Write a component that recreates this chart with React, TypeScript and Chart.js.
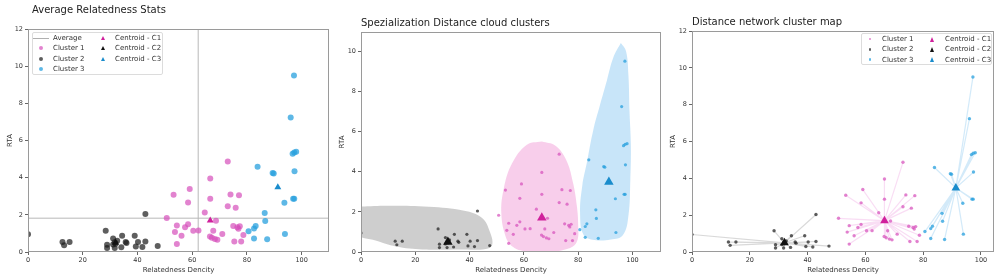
import React, { useEffect, useRef } from 'react';
import { Chart, registerables } from 'chart.js';

Chart.register(...registerables);

const FONT = '"DejaVu Sans", Verdana, sans-serif';

// ---------- data ----------
const cluster1X = [50.7, 53.2, 53.7, 54.4, 54.4, 56.1, 57.4, 58.5, 58.5, 59.1, 60.4, 62.3, 64.6, 66.6, 66.6, 66.5, 67.2, 67.7, 68.7, 68.3, 69.2, 71.0, 73.0, 73.0, 74.0, 75.0, 75.4, 75.9, 76.5, 77.1, 76.9, 77.4, 77.9, 78.7];
const cluster1Y = [1.83, 3.08, 1.08, 1.43, 0.43, 0.88, 1.33, 2.67, 1.5, 3.39, 1.15, 1.16, 2.13, 3.96, 2.87, 0.84, 0.77, 1.15, 1.68, 0.7, 0.66, 0.97, 4.87, 2.46, 3.1, 1.4, 0.57, 2.38, 1.33, 3.06, 1.25, 1.38, 0.57, 0.91];

const cluster2X = [0, 12.6, 13.2, 15.2, 28.4, 28.9, 28.9, 31.1, 31.7, 31.1, 31.7, 32.6, 32.0, 34.1, 34.4, 35.7, 36.0, 39.0, 39.4, 40.2, 41.8, 42.9, 42.9, 47.4];
const cluster2Y = [0.95, 0.54, 0.36, 0.54, 1.15, 0.39, 0.22, 0.72, 0.52, 0.4, 0.22, 0.6, 0.45, 0.25, 0.88, 0.54, 0.48, 0.88, 0.3, 0.54, 0.27, 2.04, 0.57, 0.32];

const cluster3X = [80.6, 82.6, 83.2, 82.6, 83.9, 86.5, 86.7, 87.4, 89.4, 89.8, 93.7, 93.9, 96.7, 97.3, 98.0, 96.9, 97.3, 97.4, 97.2, 96.0];
const cluster3Y = [1.11, 1.27, 1.4, 0.73, 4.59, 2.1, 1.67, 0.68, 4.25, 4.22, 2.65, 0.97, 5.29, 5.36, 5.39, 2.87, 2.87, 4.34, 9.5, 7.24];

const centroidX = [66.6, 32.0, 91.3];
const centroidY = [1.7, 0.5, 3.48];

const averageX = 62.2;
const averageY = 1.82;

// cloud outlines (data units), closed
const cloud1X = [66.6, 71.5, 75.5, 78.0, 79.5, 80.0, 79.6, 77.0, 68.5, 60.0, 55.5, 53.2, 51.7, 52.5, 55.6, 61.1, 66.6];
const cloud1Y = [5.5, 5.3, 4.6, 3.5, 2.3, 1.3, 0.55, 0.2, 0.0, 0.05, 0.3, 0.8, 1.9, 3.1, 4.4, 5.34, 5.5];
const cloud2X = [-2, 10, 25, 38, 44.5, 47.5, 48.3, 46, 36, 24, 14, 6, -2, -2];
const cloud2Y = [2.25, 2.3, 2.25, 2.05, 1.7, 1.0, 0.35, 0.15, 0.12, 0.12, 0.25, 0.55, 0.95, 2.25];
const cloud3X = [95.7, 97.6, 98.5, 98.9, 99.4, 99.2, 98.5, 96.5, 92.0, 86.0, 82.0, 80.7, 81.5, 83.2, 85.6, 88.0, 90.6, 93.0, 95.7];
const cloud3Y = [10.4, 10.0, 8.8, 7.0, 5.3, 3.6, 1.8, 0.85, 0.62, 0.6, 0.85, 1.9, 3.3, 4.45, 6.1, 7.3, 8.55, 9.7, 10.4];

const clusterLabels = ['Cluster 1', 'Cluster 2', 'Cluster 3'];
const centroidLabels = ['Centroid - C1', 'Centroid - C2', 'Centroid - C3'];

// ---------- styles ----------
const pointColors = ['rgba(214, 78, 186, 0.7)', 'rgba(25, 25, 25, 0.7)', 'rgba(40, 160, 222, 0.75)'];
const centroidColors = ['#d0209c', '#111111', '#1a8ccc'];
const cloudColors = ['rgba(246, 190, 228, 0.75)', 'rgba(190, 190, 190, 0.75)', 'rgba(190, 224, 248, 0.85)'];
const lineColors = ['rgba(232, 120, 210, 0.25)', 'rgba(80, 80, 80, 0.22)', 'rgba(80, 170, 230, 0.25)'];

const pts = (xs: number[], ys: number[]) => xs.map((x, i) => ({ x, y: ys[i] }));
const clusterXs = [cluster1X, cluster2X, cluster3X];
const clusterYs = [cluster1Y, cluster2Y, cluster3Y];

const framePlugin = {
  id: 'frame',
  afterDraw(chart: any) {
    const { ctx, chartArea } = chart;
    const { left, top, right, bottom } = chartArea;
    ctx.save();
    ctx.strokeStyle = '#9a9a9a';
    ctx.lineWidth = 1;
    ctx.strokeRect(Math.round(left) + 0.5, Math.round(top) + 0.5, Math.round(right - left) - 1, Math.round(bottom - top) - 1);
    ctx.restore();
  },
};

type Panel = {
  left: number;
  width: number;
  yAxisWidth: number;
  rightPad: number;
  topPad: number;
  xMax: number;
  yMax: number;
  yTitlePad: number;
  datasets: any[];
};

function buildPanel1(): any[] {
  const ds: any[] = [];
  for (let i = 0; i < 3; i++) {
    ds.push({
      data: [{ x: centroidX[i], y: centroidY[i] }],
      pointStyle: 'triangle',
      pointRadius: 4,
      backgroundColor: centroidColors[i],
      borderColor: centroidColors[i],
      borderWidth: 0,
      order: 1,
    });
  }
  for (let i = 0; i < 3; i++) {
    ds.push({
      data: pts(clusterXs[i], clusterYs[i]),
      pointRadius: 3,
      backgroundColor: pointColors[i],
      borderWidth: 0,
      order: 3,
    });
  }
  ds.push({
    data: [{ x: 0, y: averageY }, { x: 110, y: averageY }],
    showLine: true,
    borderColor: '#b8b8b8',
    borderWidth: 1,
    pointRadius: 0,
    order: 5,
  });
  ds.push({
    data: [{ x: averageX, y: 0 }, { x: averageX, y: 12 }],
    showLine: true,
    borderColor: '#b8b8b8',
    borderWidth: 1,
    pointRadius: 0,
    order: 5,
  });
  return ds;
}

function buildPanel2(): any[] {
  const ds: any[] = [];
  const cloudsX = [cloud1X, cloud2X, cloud3X];
  const cloudsY = [cloud1Y, cloud2Y, cloud3Y];
  for (let i = 0; i < 3; i++) {
    ds.push({
      data: [{ x: centroidX[i], y: centroidY[i] }],
      pointStyle: 'triangle',
      pointRadius: 5.5,
      backgroundColor: centroidColors[i],
      borderWidth: 0,
      order: 1,
    });
  }
  for (let i = 0; i < 3; i++) {
    ds.push({
      data: pts(clusterXs[i], clusterYs[i]),
      pointRadius: 1.6,
      backgroundColor: pointColors[i],
      borderWidth: 0,
      order: 3,
    });
  }
  for (let i = 0; i < 3; i++) {
    ds.push({
      type: 'line',
      data: pts(cloudsX[i], cloudsY[i]),
      fill: 'shape',
      backgroundColor: cloudColors[i],
      borderWidth: 0,
      borderColor: 'rgba(0,0,0,0)',
      pointRadius: 0,
      tension: 0.4,
      order: 10,
    });
  }
  return ds;
}

function buildPanel3(): any[] {
  const ds: any[] = [];
  for (let i = 0; i < 3; i++) {
    ds.push({
      data: [{ x: centroidX[i], y: centroidY[i] }],
      pointStyle: 'triangle',
      pointRadius: 5,
      backgroundColor: centroidColors[i],
      borderWidth: 0,
      order: 1,
    });
  }
  for (let i = 0; i < 3; i++) {
    ds.push({
      data: pts(clusterXs[i], clusterYs[i]),
      pointRadius: 1.7,
      backgroundColor: pointColors[i],
      borderWidth: 0,
      order: 3,
    });
  }
  for (let i = 0; i < 3; i++) {
    const star: { x: number; y: number }[] = [];
    clusterXs[i].forEach((x, k) => {
      star.push({ x: centroidX[i], y: centroidY[i] });
      star.push({ x, y: clusterYs[i][k] });
    });
    star.push({ x: centroidX[i], y: centroidY[i] });
    ds.push({
      data: star,
      showLine: true,
      borderColor: lineColors[i],
      borderWidth: 1.2,
      pointRadius: 0,
      order: 6,
    });
  }
  return ds;
}

const panels: Panel[] = [
  { left: 0, width: 335, yAxisWidth: 28, rightPad: 6, topPad: 29, xMax: 110, yMax: 12, yTitlePad: 6, datasets: buildPanel1() },
  { left: 335, width: 332, yAxisWidth: 26, rightPad: 6, topPad: 32, xMax: 110.5, yMax: 10.95, yTitlePad: 3, datasets: buildPanel2() },
  { left: 667, width: 334, yAxisWidth: 25, rightPad: 7, topPad: 31, xMax: 104.5, yMax: 12, yTitlePad: 2, datasets: buildPanel3() },
];

const titles = [
  { text: 'Average Relatedness Stats', left: 32, top: 4 },
  { text: 'Spezialization Distance cloud clusters', left: 361, top: 17 },
  { text: 'Distance network cluster map', left: 692, top: 16 },
];

function PanelChart({ p }: { p: Panel }) {
  const ref = useRef<HTMLCanvasElement | null>(null);
  useEffect(() => {
    if (!ref.current) return;
    const tickFont = { family: FONT, size: 6.5 };
    const titleFont = { family: FONT, size: 7 };
    const chart = new Chart(ref.current, {
      type: 'scatter',
      data: { datasets: p.datasets },
      plugins: [framePlugin],
      options: {
        animation: false,
        responsive: false,
        maintainAspectRatio: false,
        events: [],
        layout: { padding: { left: 0, right: p.rightPad, top: p.topPad, bottom: 0 } },
        plugins: { legend: { display: false }, tooltip: { enabled: false }, title: { display: false } },
        scales: {
          x: {
            type: 'linear',
            min: 0,
            max: p.xMax,
            ticks: { stepSize: 20, includeBounds: false, color: '#333', font: tickFont, padding: 1, maxRotation: 0, autoSkip: false },
            grid: { display: true, drawOnChartArea: false, drawTicks: true, tickLength: 3, color: '#666' },
            border: { display: false },
            title: { display: true, text: 'Relatedness Dencity', color: '#333', font: titleFont, padding: { top: 0, bottom: 4 } },
            afterFit: (s: any) => { s.height = 26; },
          },
          y: {
            type: 'linear',
            min: 0,
            max: p.yMax,
            ticks: { stepSize: 2, includeBounds: false, color: '#333', font: tickFont, padding: 2, autoSkip: false },
            grid: { display: true, drawOnChartArea: false, drawTicks: true, tickLength: 3, color: '#666' },
            border: { display: false },
            title: { display: true, text: 'RTA', color: '#333', font: titleFont, padding: { top: p.yTitlePad, bottom: 0 } },
            afterFit: (s: any) => { s.width = p.yAxisWidth; },
          },
        },
      } as any,
    });
    return () => chart.destroy();
  }, [p]);
  return (
    <canvas
      ref={ref}
      width={p.width}
      height={278}
      style={{ position: 'absolute', left: p.left, top: 0, width: p.width, height: 278 }}
    />
  );
}

type Entry = { x: number; y: number; tx: number; label: string; marker: 'line' | 'dot' | 'tri'; color: string; size: number };

function Marker({ e }: { e: Entry }) {
  if (e.marker === 'line') {
    return <div style={{ position: 'absolute', left: e.x - 8, top: e.y - 0.5, width: 16, height: 1, background: '#b0b0b0' }} />;
  }
  if (e.marker === 'dot') {
    return (
      <div style={{ position: 'absolute', left: e.x - e.size / 2, top: e.y - e.size / 2, width: e.size, height: e.size, borderRadius: '50%', background: e.color }} />
    );
  }
  const h = e.size;
  const w = e.size * 1.15;
  return (
    <div
      style={{
        position: 'absolute',
        left: e.x - w / 2,
        top: e.y - h / 2,
        width: 0,
        height: 0,
        borderLeft: `${w / 2}px solid transparent`,
        borderRight: `${w / 2}px solid transparent`,
        borderBottom: `${h}px solid ${e.color}`,
      }}
    />
  );
}

function LegendBox({ left, top, width, height, entries }: { left: number; top: number; width: number; height: number; entries: Entry[] }) {
  return (
    <>
      <div style={{ position: 'absolute', left, top, width, height, border: '1px solid #dcdcdc', borderRadius: 2, background: 'rgba(255,255,255,0.85)', boxSizing: 'border-box' }} />
      {entries.map((e, i) => (
        <React.Fragment key={i}>
          <Marker e={e} />
          <div style={{ position: 'absolute', left: e.tx, top: e.y - 5, height: 10, lineHeight: '10px', fontSize: 7, fontFamily: FONT, color: '#333', whiteSpace: 'nowrap' }}>
            {e.label}
          </div>
        </React.Fragment>
      ))}
    </>
  );
}

const legend1Rows = [38, 48.3, 58.7, 69];
const legend1: Entry[] = [
  { x: 41, y: legend1Rows[0], tx: 53, label: 'Average', marker: 'line', color: '#b0b0b0', size: 0 },
  ...clusterLabels.map((l, i) => ({ x: 41, y: legend1Rows[i + 1], tx: 53, label: l, marker: 'dot' as const, color: pointColors[i], size: 4 })),
  ...centroidLabels.map((l, i) => ({ x: 103, y: legend1Rows[i], tx: 115, label: l, marker: 'tri' as const, color: centroidColors[i], size: 4 })),
];

const legend3Rows = [39, 49.3, 59.7];
const legend3: Entry[] = [
  ...clusterLabels.map((l, i) => ({ x: 870, y: legend3Rows[i], tx: 882, label: l, marker: 'dot' as const, color: pointColors[i], size: 2.5 })),
  ...centroidLabels.map((l, i) => ({ x: 933, y: legend3Rows[i], tx: 945, label: l, marker: 'tri' as const, color: centroidColors[i], size: 5 })),
];

export default function App() {
  return (
    <div style={{ position: 'absolute', left: 0, top: 0, width: 1001, height: 278, background: '#fff', overflow: 'hidden' }}>
      {panels.map((p, i) => (
        <PanelChart key={i} p={p} />
      ))}
      {titles.map((t, i) => (
        <div key={i} style={{ position: 'absolute', left: t.left, top: t.top, fontFamily: FONT, fontSize: 10, lineHeight: '12px', color: '#222', whiteSpace: 'nowrap' }}>
          {t.text}
        </div>
      ))}
      <LegendBox left={32} top={32} width={131} height={43} entries={legend1} />
      <LegendBox left={861} top={33} width={131} height={32} entries={legend3} />
    </div>
  );
}
